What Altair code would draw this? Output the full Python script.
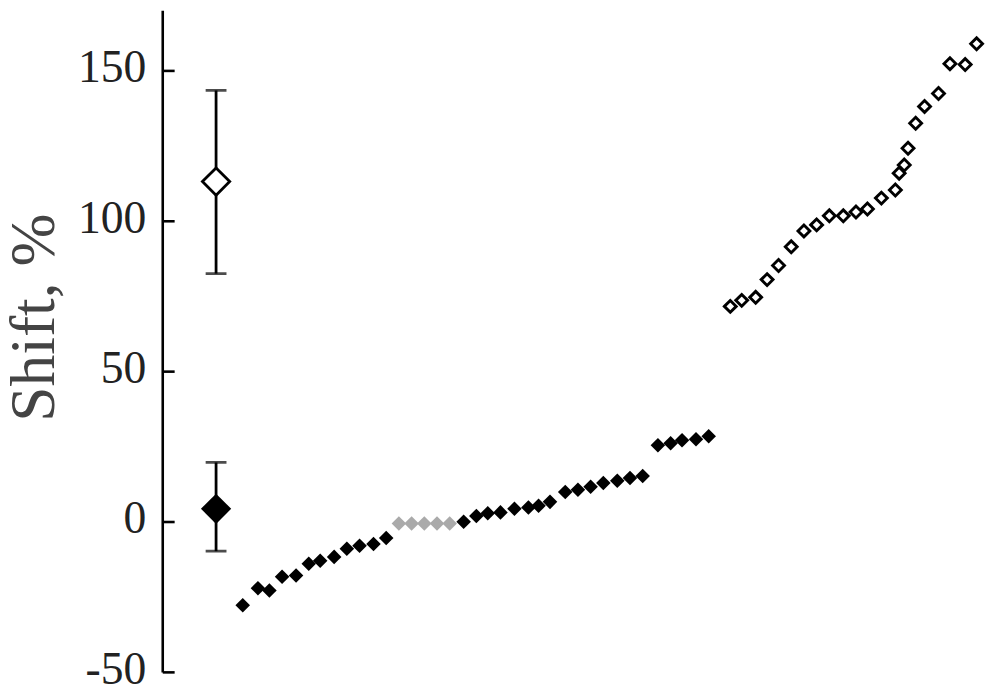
import altair as alt
import pandas as pd

# ---- data ----
black1_x = [6.3, 7.5, 8.4, 9.4, 10.5, 11.5, 12.4, 13.5, 14.5, 15.5, 16.6, 17.6]
black1_y = [-27.7, -22.0, -22.8, -18.2, -17.8, -13.9, -12.9, -11.6, -8.9, -7.9, -7.3, -5.3]

gray_x = [18.6, 19.6, 20.6, 21.6, 22.6]
gray_y = [-0.5, -0.5, -0.5, -0.5, -0.5]

black2_x = [23.7, 24.7, 25.6, 26.6, 27.7, 28.8, 29.6, 30.5, 31.7, 32.7, 33.7, 34.7,
            35.8, 36.8, 37.8, 39.0, 40.0, 40.9, 42.0, 43.0]
black2_y = [0.1, 2.0, 2.9, 3.2, 4.4, 4.8, 5.4, 6.7, 10.0, 10.7, 11.7, 13.0,
            13.7, 14.6, 15.3, 25.5, 26.2, 27.2, 27.5, 28.5]

open_x = [44.7, 45.6, 46.7, 47.6, 48.5, 49.5, 50.5, 51.5, 52.5, 53.6, 54.6, 55.5,
          56.6, 57.7, 58.0, 58.4, 58.7, 59.3, 60.0, 61.1, 62.0, 63.2, 64.1]
open_y = [71.7, 73.7, 74.7, 80.6, 85.3, 91.5, 96.8, 98.8, 101.8, 101.8, 103.1, 104.1,
          107.7, 110.4, 116.0, 118.7, 124.3, 132.6, 138.2, 142.5, 152.4, 152.1, 159.0]

mean_x = [4.2, 4.2]
mean_y = [113.2, 4.4]
mean_lo = [82.6, -9.7]
mean_hi = [143.5, 19.8]
mean_kind = ["open", "filled"]

tick_values = [-50, 0, 50, 100, 150]
y_domain = [-50, 170]
x_domain = [0, 65]

FONT = "Liberation Serif"

xs = alt.X("x:Q", scale=alt.Scale(domain=x_domain, nice=False, zero=False), axis=None)
ysc = alt.Scale(domain=y_domain, nice=False, zero=False)

yaxis = alt.Axis(
    values=tick_values, domain=False, ticks=False, tickSize=0, grid=False,
    labelExpr="'' + datum.value", labelOffset=-3,
    labelFont=FONT, labelFontSize=46, labelColor="#222222", labelPadding=17,
    title="Shift, %", titleFont=FONT, titleFontSize=64, titleFontWeight="normal",
    titleColor="#444444", titleX=-129, titleY=309, titleAlign="center",
    titleBaseline="middle", titleAngle=270,
)


def Y(field):
    return alt.Y(field, scale=ysc, axis=yaxis, title="Shift, %")


black_df = pd.DataFrame({"x": black1_x + black2_x, "y": black1_y + black2_y})
gray_df = pd.DataFrame({"x": gray_x, "y": gray_y})
open_df = pd.DataFrame({"x": open_x, "y": open_y})
mean_df = pd.DataFrame({"x": mean_x, "y": mean_y, "lo": mean_lo, "hi": mean_hi, "kind": mean_kind})
tick_df = pd.DataFrame({"t": tick_values})
axis_df = pd.DataFrame({"a": [y_domain[0]], "b": [y_domain[1]]})

axis_line = alt.Chart(axis_df).mark_rule(color="black", strokeWidth=2.6).encode(
    x=alt.value(0), y=Y("a:Q"), y2="b:Q",
)

ticks = alt.Chart(tick_df).mark_rule(color="black", strokeWidth=2.6).encode(
    x=alt.value(0), x2=alt.value(12), y=Y("t:Q"),
)

err = alt.Chart(mean_df).mark_rule(color="black", strokeWidth=2.8).encode(
    x=xs, y=Y("lo:Q"), y2="hi:Q",
)
cap_lo = alt.Chart(mean_df).mark_tick(color="black", orient="horizontal", size=21, thickness=2.8).encode(
    x=xs, y=Y("lo:Q"),
)
cap_hi = alt.Chart(mean_df).mark_tick(color="black", orient="horizontal", size=21, thickness=2.8).encode(
    x=xs, y=Y("hi:Q"),
)

mean_open = alt.Chart(mean_df).transform_filter(alt.datum.kind == "open").mark_point(
    shape="diamond", filled=True, fill="white", stroke="black", strokeWidth=2.8,
    size=756, opacity=1,
).encode(x=xs, y=Y("y:Q"))

mean_filled = alt.Chart(mean_df).transform_filter(alt.datum.kind == "filled").mark_point(
    shape="diamond", filled=True, fill="black", size=930, opacity=1,
).encode(x=xs, y=Y("y:Q"))

black_pts = alt.Chart(black_df).mark_point(
    shape="diamond", filled=True, color="black", size=215, opacity=1,
).encode(x=xs, y=Y("y:Q"))

gray_pts = alt.Chart(gray_df).mark_point(
    shape="diamond", filled=True, color="#aaaaaa", size=215, opacity=1,
).encode(x=xs, y=Y("y:Q"))

open_pts = alt.Chart(open_df).mark_point(
    shape="diamond", filled=True, fill="white", stroke="black", strokeWidth=2.9,
    size=144, opacity=1,
).encode(x=xs, y=Y("y:Q"))

chart = alt.layer(
    axis_line, ticks, err, cap_lo, cap_hi, mean_open, mean_filled,
    black_pts, gray_pts, open_pts,
).properties(
    width=832, height=667, background="white",
    autosize=alt.AutoSizeParams(type="none"),
    padding={"left": 156, "top": 0, "right": 4, "bottom": 17},
).configure_view(strokeWidth=0)

chart.save("out.html", embed_options={"renderer": "svg", "actions": False})
